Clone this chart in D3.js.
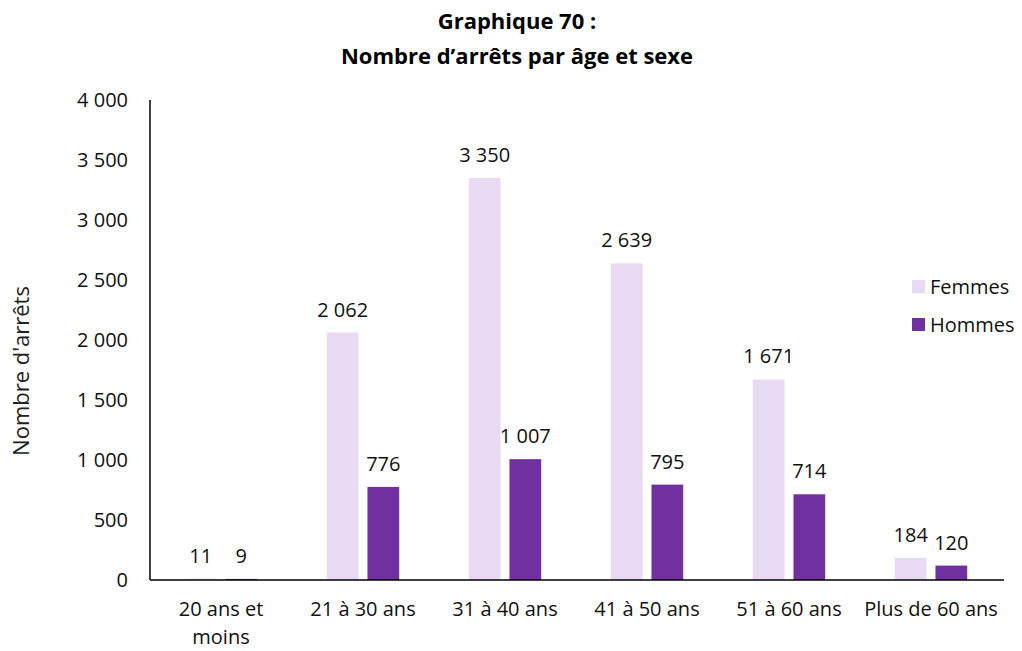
<!DOCTYPE html>
<html>
<head>
<meta charset="utf-8">
<script src="https://cdn.jsdelivr.net/npm/d3@7"></script>
<style>
  body { margin: 0; background: #fff; }
  svg { display: block; font-family: "Open Sans", Lato, sans-serif; }
</style>
</head>
<body>
<svg id="chart" width="1022" height="651"></svg>
<script>
const categories = ["20 ans et moins", "21 à 30 ans", "31 à 40 ans", "41 à 50 ans", "51 à 60 ans", "Plus de 60 ans"];
const categoryLines = [["20 ans et", "moins"], ["21 à 30 ans"], ["31 à 40 ans"], ["41 à 50 ans"], ["51 à 60 ans"], ["Plus de 60 ans"]];
const seriesNames = ["Femmes", "Hommes"];
const femmes = [11, 2062, 3350, 2639, 1671, 184];
const hommes = [9, 776, 1007, 795, 714, 120];
const yTicks = [0, 500, 1000, 1500, 2000, 2500, 3000, 3500, 4000];
const colors = ["#E8DAF2", "#7030A0"];

const svg = d3.select("#chart");
const margin = { left: 150, right: 1004, top: 100, bottom: 580 };
const fs = 20;

const x = d3.scaleBand().domain(categories).range([margin.left, 1002]).paddingInner(0.49).paddingOuter(0.245);
const xs = d3.scaleBand().domain(seriesNames).range([0, x.bandwidth()]).paddingInner(0.22);
const y = d3.scaleLinear().domain([0, 4000]).range([margin.bottom, margin.top]);

const fmt = v => d3.format(",")(v).replace(/,/g, " ");

// Title
svg.append("text").attr("x", 517).attr("y", 29).attr("text-anchor", "middle")
  .attr("font-weight", "bold").attr("font-size", 22).text("Graphique 70 :");
svg.append("text").attr("x", 517).attr("y", 64).attr("text-anchor", "middle")
  .attr("font-weight", "bold").attr("font-size", 22).text("Nombre d’arrêts par âge et sexe");

// Y axis label
svg.append("text").attr("transform", "translate(29,371) rotate(-90)")
  .attr("text-anchor", "middle").attr("font-size", 22).attr("fill", "#222").text("Nombre d'arrêts");

// Y tick labels
svg.append("g").selectAll("text").data(yTicks).join("text")
  .attr("x", 128).attr("y", d => y(d)).attr("dy", "0.35em")
  .attr("text-anchor", "end").attr("font-size", fs).attr("fill", "#111")
  .text(fmt);

// Bars
const rows = categories.map((c, i) => ({ c, vals: [femmes[i], hommes[i]] }));
const groups = svg.append("g").selectAll("g").data(rows).join("g")
  .attr("transform", d => `translate(${x(d.c)},0)`);

groups.selectAll("rect").data(d => d.vals.map((v, j) => ({ v, s: seriesNames[j], j }))).join("rect")
  .attr("x", d => xs(d.s)).attr("width", xs.bandwidth())
  .attr("y", d => y(d.v)).attr("height", d => y(0) - y(d.v))
  .attr("fill", d => colors[d.j]);

groups.selectAll("text.val").data(d => d.vals.map((v, j) => ({ v, s: seriesNames[j], j }))).join("text")
  .attr("class", "val")
  .attr("x", d => xs(d.s) + xs.bandwidth() / 2).attr("y", d => y(d.v) - 16)
  .attr("text-anchor", "middle").attr("font-size", fs).attr("fill", "#111")
  .text(d => fmt(d.v));

// Axes lines
svg.append("line").attr("x1", 150).attr("x2", 150).attr("y1", margin.top).attr("y2", margin.bottom)
  .attr("stroke", "#000").attr("stroke-width", 1.5);
svg.append("line").attr("x1", 150).attr("x2", margin.right).attr("y1", margin.bottom).attr("y2", margin.bottom)
  .attr("stroke", "#000").attr("stroke-width", 1.5);

// Category labels
const xl = svg.append("g").selectAll("text").data(categories).join("text")
  .attr("x", d => x(d) + x.bandwidth() / 2).attr("y", 616)
  .attr("text-anchor", "middle").attr("font-size", fs).attr("fill", "#111");
xl.selectAll("tspan").data((d, i) => categoryLines[i]).join("tspan")
  .attr("x", function () { return d3.select(this.parentNode).attr("x"); })
  .attr("dy", (d, i) => i === 0 ? 0 : 28).text(d => d);

// Legend
const lg = svg.append("g").selectAll("g").data(seriesNames).join("g")
  .attr("transform", (d, i) => `translate(912,${287 + i * 38})`);
lg.append("rect").attr("x", 0).attr("y", -7).attr("width", 13).attr("height", 13)
  .attr("fill", (d, i) => colors[i]);
lg.append("text").attr("x", 18).attr("y", 0).attr("dy", "0.35em")
  .attr("font-size", fs).attr("fill", "#111").text(d => d);
</script>
</body>
</html>
